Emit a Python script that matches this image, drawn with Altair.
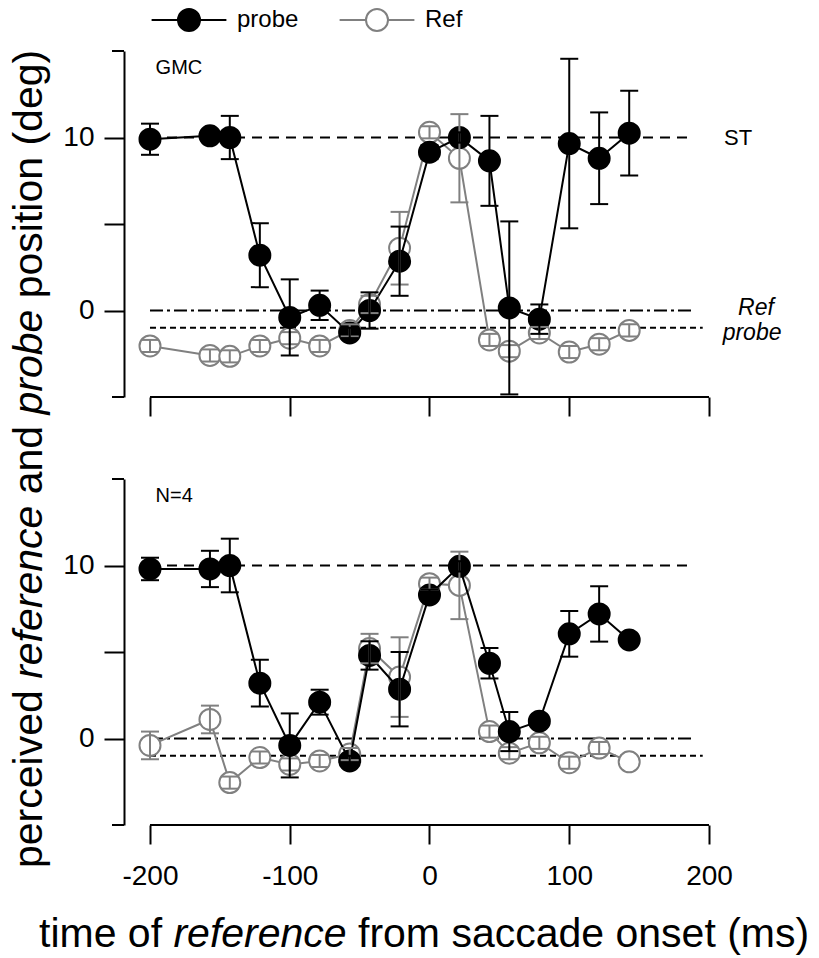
import altair as alt
import pandas as pd

# ---------------- data ----------------
x_ms = [-200, -157.1, -142.9, -121.4, -100, -78.6, -57.1, -42.9, -21.4,
        0, 21.4, 42.9, 57.1, 78.6, 100, 121.4, 142.9]

gmc_probe     = [9.9, 10.1, 10.0, 3.2, -0.4, 0.3, -1.3, 0.0, 2.85, 9.15, 10.0, 8.65, 0.15, -0.5, 9.65, 8.8, 10.25]
gmc_probe_err = [0.9, 0.3, 1.25, 1.85, 2.2, 0.85, 0.3, 1.05, 2.0, 0.4, 0.3, 2.6, 5.0, 0.85, 4.9, 2.65, 2.45]
gmc_ref       = [-2.05, -2.6, -2.65, -2.05, -1.6, -2.05, -1.15, 0.35, 3.6, 10.3, 8.8, -1.7, -2.35, -1.3, -2.4, -1.95, -1.15]
gmc_ref_err   = [0.35, 0.35, 0.35, 0.35, 0.35, 0.35, 0.35, 0.5, 2.1, 0.35, 2.55, 0.35, 0.35, 0.35, 0.35, 0.35, 0.35]

n4_probe      = [9.8, 9.8, 10.0, 3.2, -0.4, 2.1, -1.3, 4.8, 2.85, 8.3, 9.95, 4.35, 0.4, 1.0, 6.05, 7.2, 5.7]
n4_probe_err  = [0.65, 1.05, 1.55, 1.35, 1.85, 0.72, 0.3, 0.82, 2.15, 0.3, 0.3, 0.88, 1.13, 0.3, 1.32, 1.6, 0.0]
n4_ref        = [-0.4, 1.1, -2.55, -1.1, -1.5, -1.3, -0.9, 5.2, 3.55, 8.95, 8.85, 0.4, -0.85, -0.25, -1.4, -0.55, -1.35]
n4_ref_err    = [0.8, 0.8, 0.35, 0.35, 0.35, 0.35, 0.35, 0.85, 2.3, 0.35, 1.95, 0.35, 0.35, 0.35, 0.35, 0.35, 0.0]

series_names = ["probe", "Ref"]
series_stroke = ["black", "#808080"]
series_fill = ["black", "white"]

ref_levels = [10, 0, -1]          # ST, Ref, probe lines
ref_start = [-200, -200, -200]
ref_end = [187, 188, 195.5]

x_ticks = [-200, -100, 0, 100, 200]
y_ticks = [0, 5, 10]
y_ends = [-5, 15]
x_axis_span = [-200, 200]

# ---------------- style ----------------
FONT = "Liberation Sans"
X_DOMAIN = [-218.6, 200]
Y_DOMAIN = [-5, 15]
W, H = 585, 346
GRAY = "#808080"
DASHES = [[10, 7], [13, 4, 3, 4], [6, 4]]

ARIAL = {" ": 278, "(": 333, ")": 333, "a": 556, "c": 500, "d": 556, "e": 556, "f": 278,
         "g": 556, "i": 222, "m": 833, "n": 556, "o": 556, "p": 556, "r": 333, "s": 500,
         "t": 278, "v": 500}


def tw(s, fs):
    return sum(ARIAL.get(c, 556) for c in s) * fs / 1000.0


LEG_PATH = "M-3.4,0L-1,0M1,0L3.4,0M1,0A1,1,0,1,1,-1,0A1,1,0,1,1,1,0Z"
legend = alt.Legend(title=None, orient="none", legendX=53, legendY=-43, direction="horizontal",
                    symbolType=LEG_PATH, symbolSize=484, symbolStrokeWidth=2, symbolOpacity=1,
                    labelFont=FONT, labelFontSize=24, labelColor="black", labelOffset=36,
                    columnPadding=36)


def xenc(field, labels):
    return alt.X(field, type="quantitative",
                 scale=alt.Scale(domain=X_DOMAIN, nice=False, zero=False),
                 axis=alt.Axis(values=x_ticks, domain=False, grid=False, tickSize=19, tickWidth=2,
                               tickColor="black", labels=labels, labelFont=FONT, labelFontSize=28,
                               labelColor="black", labelPadding=18, labelFlush=False,
                               labelOverlap=False, labelExpr="'' + datum.value", title=None))


def yenc(field):
    return alt.Y(field, type="quantitative",
                 scale=alt.Scale(domain=Y_DOMAIN, nice=False, zero=False),
                 axis=alt.Axis(values=y_ticks, grid=False, domain=True, domainColor="black",
                               domainWidth=2, tickSize=20, tickWidth=2, tickColor="black",
                               labelExpr="datum.value % 10 === 0 ? '' + datum.value : ''",
                               labelFont=FONT, labelFontSize=28, labelColor="black",
                               labelPadding=10, labelFlush=False, title=None))


stroke_enc = alt.Stroke("series:N", scale=alt.Scale(domain=series_names, range=series_stroke), legend=legend)
fill_enc = alt.Fill("series:N", scale=alt.Scale(domain=series_names, range=series_fill), legend=legend)


def make_df(probe, probe_err, ref, ref_err):
    rows = []
    for name, ys, es in (("probe", probe, probe_err), ("Ref", ref, ref_err)):
        for x, y, e in zip(x_ms, ys, es):
            rows.append({"x": x, "y": y, "err": e, "lo": y - e, "hi": y + e, "series": name})
    return pd.DataFrame(rows)


def text_layer(txt, x, y, size, italic=False, align="left", baseline="middle", angle=0, pixel=False):
    d = pd.DataFrame({"t": [txt]})
    kw = dict(align=align, baseline=baseline, font=FONT, fontSize=size, color="black")
    if italic:
        kw["fontStyle"] = "italic"
    if angle:
        kw["angle"] = angle
    m = alt.Chart(d).mark_text(**kw)
    if pixel:
        return m.encode(x=alt.value(x), y=alt.value(y), text="t:N")
    return m.encode(x=alt.datum(x), y=alt.datum(y), text="t:N")


def panel(df, label, labels, top):
    layers = []
    ref_df = pd.DataFrame({"level": ref_levels, "start": ref_start, "end": ref_end})
    for i in range(3):
        layers.append(alt.Chart(ref_df.iloc[[i]]).mark_rule(strokeWidth=2, color="black",
                                                           strokeDash=DASHES[i])
                      .encode(x=xenc("start", labels), x2="end", y=yenc("level")))
    # x-axis line (only over the tick range)
    ax_df = pd.DataFrame({"a": [x_axis_span[0]], "b": [x_axis_span[1]], "yb": [Y_DOMAIN[0]]})
    layers.append(alt.Chart(ax_df).mark_rule(strokeWidth=2, color="black")
                  .encode(x=xenc("a", labels), x2="b", y=yenc("yb")))
    # short end hooks of the y axis
    end_df = pd.DataFrame({"v": y_ends})
    layers.append(alt.Chart(end_df).mark_rule(strokeWidth=2, color="black")
                  .encode(y=yenc("v"), x=alt.value(-12), x2=alt.value(0)))

    for name in ["Ref", "probe"]:
        sub = df[df.series == name]
        layers.append(alt.Chart(sub).mark_line(strokeWidth=2)
                      .encode(x=xenc("x", labels), y=yenc("y"), stroke=stroke_enc))
        layers.append(alt.Chart(sub).mark_point(shape="circle", size=441, filled=True, opacity=1,
                                                strokeWidth=2)
                      .encode(x=xenc("x", labels), y=yenc("y"), stroke=stroke_enc, fill=fill_enc))
    for name, col in (("Ref", GRAY), ("probe", "black")):
        sub = df[(df.series == name) & (df.err > 0)]
        layers.append(alt.Chart(sub).mark_rule(strokeWidth=2, color=col)
                      .encode(x=xenc("x", labels), y=yenc("lo"), y2="hi"))
        for f in ("lo", "hi"):
            layers.append(alt.Chart(sub).mark_tick(orient="horizontal", size=18, thickness=2,
                                                   color=col, opacity=1)
                          .encode(x=xenc("x", labels), y=yenc(f)))

    layers.append(text_layer(label, -196, 14, 20))
    if top:
        layers.append(text_layer("ST", 210.7, 10, 22))
        layers.append(text_layer("Ref", 233.6, 0.15, 23, italic=True, align="center"))
        layers.append(text_layer("probe", 230.8, -1.3, 23, italic=True, align="center"))
        # y title, mixed upright / italic, read bottom to top
        fs = 41
        segs = [("perceived ", False), ("reference", True), (" and ", False),
                ("probe", True), (" position (deg)", False)]
        off = 0.0
        for s, it in segs:
            lead = len(s) - len(s.lstrip(" "))
            off_s = off + tw(" " * lead, fs)
            layers.append(text_layer(s.strip(), -82, 817 - off_s, fs, italic=it,
                                     baseline="alphabetic", angle=270, pixel=True))
            off += tw(s, fs)
    else:
        fs = 41
        segs = [("time of ", False), ("reference", True), (" from saccade onset (ms)", False)]
        off = 0.0
        for s, it in segs:
            lead = len(s) - len(s.lstrip(" "))
            off_s = off + tw(" " * lead, fs)
            layers.append(text_layer(s.strip(), -85 + off_s, 467.5, fs, italic=it,
                                     baseline="alphabetic", pixel=True))
            off += tw(s, fs)
    return (alt.layer(*layers)
            .properties(width=W, height=H, view=alt.ViewBackground(stroke="transparent", strokeWidth=0)))


top = panel(make_df(gmc_probe, gmc_probe_err, gmc_ref, gmc_ref_err), "GMC", False, True)
bottom = panel(make_df(n4_probe, n4_probe_err, n4_ref, n4_ref_err), "N=4", True, False)

chart = (alt.vconcat(top, bottom, spacing=82, bounds="flush")
         .properties(padding=0)
         .configure_view(strokeWidth=0, stroke="transparent")
         .configure(font=FONT, style={"cell": {"stroke": "transparent", "strokeWidth": 0}}))

chart.save("out.html", embed_options={"renderer": "svg", "actions": False})
